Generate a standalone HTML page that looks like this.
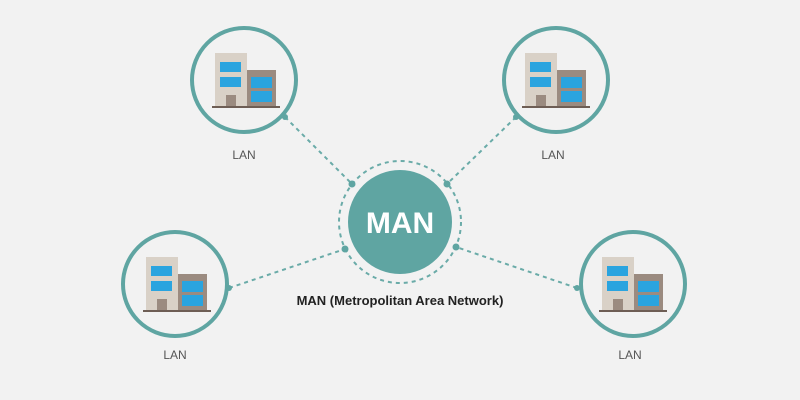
<!DOCTYPE html>
<html><head><style>body{margin:0;background:#f2f2f2}svg{display:block}</style></head><body>
<svg width="800" height="400" viewBox="0 0 800 400" xmlns="http://www.w3.org/2000/svg">
<rect width="800" height="400" fill="#f2f2f2"/>
<defs>
<g id="b">
<rect x="-29" y="-27" width="32" height="53" fill="#d9d1c7"/>
<rect x="3" y="-10" width="29" height="36" fill="#9b8b80"/>
<rect x="-24" y="-18" width="21" height="10" fill="#2aa4df"/>
<rect x="-24" y="-3" width="21" height="10" fill="#2aa4df"/>
<rect x="7" y="-3" width="21" height="11" fill="#2aa4df"/>
<rect x="7" y="11" width="21" height="11" fill="#2aa4df"/>
<rect x="-18" y="15" width="10" height="11" fill="#9b8b80"/>
<rect x="-32" y="26" width="68" height="2" fill="#6e5e55"/>
</g>
</defs>
<g stroke="#6aaba8" stroke-width="2" stroke-dasharray="4 4" fill="none">
<line x1="285" y1="117" x2="352" y2="184"/>
<line x1="516" y1="117" x2="447" y2="184"/>
<line x1="229" y1="288" x2="345" y2="249"/>
<line x1="577" y1="288" x2="456" y2="247"/>
<circle cx="400" cy="222" r="61"/>
</g>
<g fill="#5fa5a2">
<circle cx="352" cy="184" r="3.5"/><circle cx="447" cy="184" r="3.5"/>
<circle cx="345" cy="249" r="3.5"/><circle cx="456" cy="247" r="3.5"/>
<circle cx="285" cy="117" r="3"/><circle cx="516" cy="117" r="3"/>
<circle cx="229" cy="288" r="3"/><circle cx="577" cy="288" r="3"/>
<circle cx="400" cy="222" r="52"/>
</g>
<g stroke="#5fa5a2" stroke-width="4" fill="none">
<circle cx="244" cy="80" r="52"/><circle cx="556" cy="80" r="52"/>
<circle cx="175" cy="284" r="52"/><circle cx="633" cy="284" r="52"/>
</g>
<use href="#b" x="244" y="80"/><use href="#b" x="554" y="80"/>
<use href="#b" x="175" y="284"/><use href="#b" x="631" y="284"/>
<g font-family="Liberation Sans, sans-serif" text-anchor="middle">
<text x="400" y="233" font-size="30" font-weight="bold" fill="#fff">MAN</text>
<text x="400" y="305" font-size="13" font-weight="bold" fill="#222">MAN (Metropolitan Area Network)</text>
<g font-size="12" fill="#555">
<text x="244" y="159">LAN</text><text x="553" y="159">LAN</text>
<text x="175" y="359">LAN</text><text x="630" y="359">LAN</text>
</g></g>
</svg>
</body></html>
